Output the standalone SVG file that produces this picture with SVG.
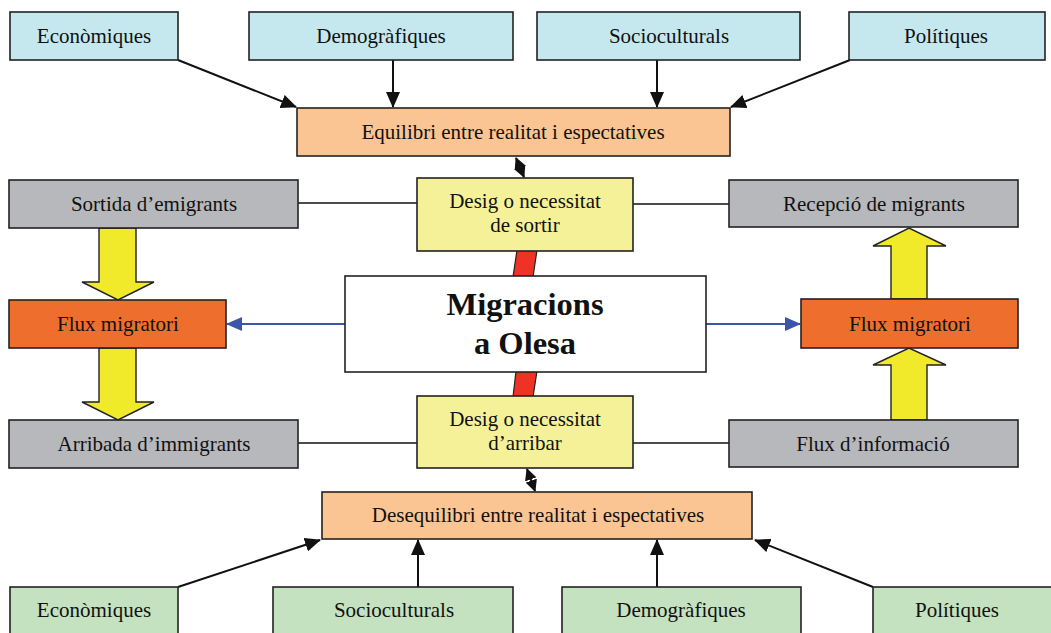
<svg xmlns="http://www.w3.org/2000/svg" width="1051" height="633" viewBox="0 0 1051 633">
<style>
text{font-family:"Liberation Serif","Times New Roman",serif;font-size:21px;fill:#111;text-anchor:middle}
.box{stroke:#222;stroke-width:1.6}
.blue{fill:#C5E8EF}.peach{fill:#FBC593}.yel{fill:#F5F199}.grey{fill:#B7B8BC}.orange{fill:#EE6E2D}.green{fill:#C5E2C0}.white{fill:#fff}
.conn{stroke:#111;stroke-width:2;fill:none}
.thin{stroke:#111;stroke-width:1.4;fill:none}
.bl{stroke:#3A56A8;stroke-width:2;fill:none}
.fat{fill:#F0EA2A;stroke:#222;stroke-width:1.4}
.red{fill:#EE3224;stroke:#222;stroke-width:1.2}
.title{font-weight:bold;font-size:32.5px}
</style>
<defs>
<marker id="ah" markerUnits="userSpaceOnUse" markerWidth="16" markerHeight="14" refX="15" refY="7" orient="auto"><path d="M0,0 L16,7 L0,14 Z" fill="#111"/></marker>
<marker id="ahs" markerUnits="userSpaceOnUse" markerWidth="12" markerHeight="12" refX="11" refY="6" orient="auto-start-reverse"><path d="M0,0 L12,6 L0,12 Z" fill="#111"/></marker>
<marker id="ab" markerUnits="userSpaceOnUse" markerWidth="16" markerHeight="14" refX="15" refY="7" orient="auto"><path d="M0,0 L16,7 L0,14 Z" fill="#3A56A8"/></marker>
</defs>
<g id="connectors">
<line class="conn" x1="178" y1="60" x2="296" y2="107" marker-end="url(#ah)"/>
<line class="conn" x1="393" y1="60" x2="393" y2="107" marker-end="url(#ah)"/>
<line class="conn" x1="657" y1="60" x2="657" y2="107" marker-end="url(#ah)"/>
<line class="conn" x1="850" y1="60" x2="731" y2="107" marker-end="url(#ah)"/>
<line class="conn" x1="178" y1="587" x2="320" y2="540" marker-end="url(#ah)"/>
<line class="conn" x1="418" y1="587" x2="418" y2="540" marker-end="url(#ah)"/>
<line class="conn" x1="657" y1="587" x2="657" y2="540" marker-end="url(#ah)"/>
<line class="conn" x1="873" y1="587" x2="755" y2="540" marker-end="url(#ah)"/>
<line class="conn" x1="516" y1="158" x2="524" y2="177" marker-start="url(#ahs)" marker-end="url(#ahs)"/>
<line class="conn" x1="527" y1="469" x2="535" y2="491" marker-start="url(#ahs)" marker-end="url(#ahs)"/>
<line class="thin" x1="298" y1="203" x2="417" y2="203"/>
<line class="thin" x1="633" y1="204" x2="729" y2="204"/>
<line class="thin" x1="298" y1="443" x2="417" y2="443"/>
<line class="thin" x1="633" y1="443" x2="729" y2="443"/>
<line class="bl" x1="345" y1="324" x2="227" y2="324" marker-end="url(#ab)"/>
<line class="bl" x1="706" y1="324" x2="800" y2="324" marker-end="url(#ab)"/>
<polygon class="red" points="517,250 537,250 533,277 513,277"/>
<polygon class="red" points="516,371 537,371 533,397 513,397"/>
<polygon class="fat" points="99,228 136,228 136,282 154,282 118,300 82,282 99,282"/>
<polygon class="fat" points="99,348 136,348 136,402 154,402 118,420 82,402 99,402"/>
<polygon class="fat" points="891,299 927,299 927,246 946,246 909,228 873,246 891,246"/>
<polygon class="fat" points="891,420 927,420 927,365 946,365 909,348 873,365 891,365"/>
</g>
<g id="top-economiques"><rect class="box blue" x="10" y="12" width="168" height="48"/><text x="94" y="43">Econòmiques</text></g>
<g id="top-demografiques"><rect class="box blue" x="249" y="12" width="264" height="48"/><text x="381" y="43">Demogràfiques</text></g>
<g id="top-socioculturals"><rect class="box blue" x="537" y="12" width="263" height="48"/><text x="669" y="43">Socioculturals</text></g>
<g id="top-politiques"><rect class="box blue" x="849" y="12" width="196" height="48"/><text x="946" y="43">Polítiques</text></g>
<g id="equilibri"><rect class="box peach" x="297" y="108" width="433" height="48"/><text x="513" y="139">Equilibri entre realitat i espectatives</text></g>
<g id="desig-sortir"><rect class="box yel" x="417" y="178" width="216" height="73"/><text x="525" y="208">Desig o necessitat</text><text x="525" y="232">de sortir</text></g>
<g id="sortida"><rect class="box grey" x="9" y="180" width="289" height="48"/><text x="154" y="211">Sortida d’emigrants</text></g>
<g id="recepcio"><rect class="box grey" x="729" y="180" width="289" height="47"/><text x="874" y="211">Recepció de migrants</text></g>
<g id="flux-left"><rect class="box orange" x="9" y="300" width="217" height="48"/><text x="118" y="331">Flux migratori</text></g>
<g id="flux-right"><rect class="box orange" x="801" y="299" width="217" height="49"/><text x="910" y="331">Flux migratori</text></g>
<g id="central"><rect class="box white" x="345" y="276" width="361" height="96"/><text class="title" x="525" y="315">Migracions</text><text class="title" x="525" y="354">a Olesa</text></g>
<g id="arribada"><rect class="box grey" x="9" y="420" width="289" height="48"/><text x="154" y="451">Arribada d’immigrants</text></g>
<g id="flux-info"><rect class="box grey" x="729" y="420" width="289" height="47"/><text x="873" y="451">Flux d’informació</text></g>
<g id="desig-arribar"><rect class="box yel" x="417" y="396" width="216" height="72"/><text x="525" y="426">Desig o necessitat</text><text x="525" y="450">d’arribar</text></g>
<g id="desequilibri"><rect class="box peach" x="322" y="492" width="430" height="47"/><text x="538" y="522">Desequilibri entre realitat i espectatives</text></g>
<g id="bot-economiques"><rect class="box green" x="10" y="587" width="168" height="60"/><text x="94" y="617">Econòmiques</text></g>
<g id="bot-socioculturals"><rect class="box green" x="273" y="587" width="240" height="60"/><text x="394" y="617">Socioculturals</text></g>
<g id="bot-demografiques"><rect class="box green" x="562" y="587" width="239" height="60"/><text x="681" y="617">Demogràfiques</text></g>
<g id="bot-politiques"><rect class="box green" x="873" y="587" width="190" height="60"/><text x="957" y="617">Polítiques</text></g>
</svg>
